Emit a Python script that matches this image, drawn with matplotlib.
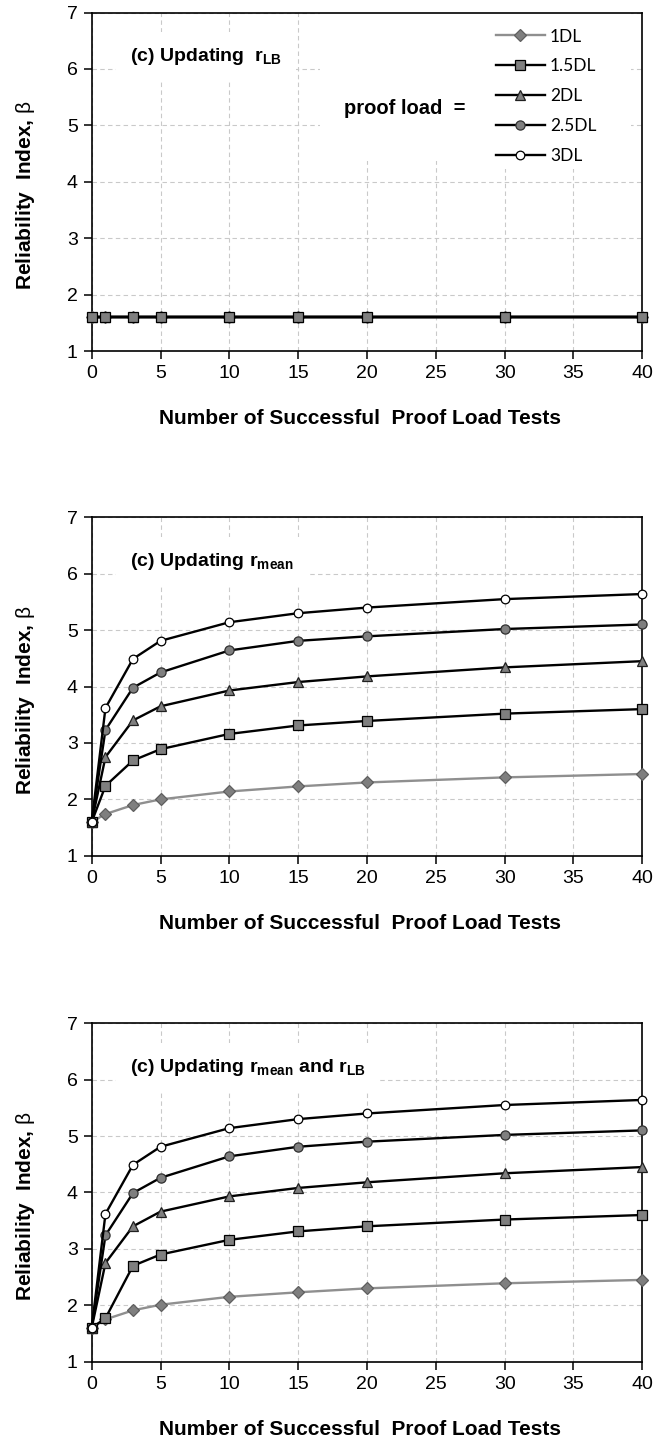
import matplotlib
matplotlib.use("Agg")
import matplotlib.pyplot as plt
from matplotlib.patches import Rectangle

plt.rcParams["font.family"] = ["Liberation Sans", "DejaVu Sans"]
plt.rcParams["mathtext.fontset"] = "custom"
plt.rcParams["mathtext.rm"] = "Liberation Sans"
plt.rcParams["mathtext.it"] = "Liberation Sans:italic"
plt.rcParams["mathtext.bf"] = "Liberation Sans:bold"

# Number of successful proof load tests
n_tests = [0, 1, 3, 5, 10, 15, 20, 30, 40]

series_labels = ["1DL", "1.5DL", "2DL", "2.5DL", "3DL"]

# (a) updating r_LB only: reliability index stays flat
beta_lb_1dl = [1.61, 1.61, 1.61, 1.61, 1.61, 1.61, 1.61, 1.61, 1.61]
beta_lb_15dl = [1.61, 1.61, 1.61, 1.61, 1.61, 1.61, 1.61, 1.61, 1.61]
beta_lb_2dl = [1.61, 1.61, 1.61, 1.61, 1.61, 1.61, 1.61, 1.61, 1.61]
beta_lb_25dl = [1.61, 1.61, 1.61, 1.61, 1.61, 1.61, 1.61, 1.61, 1.61]
beta_lb_3dl = [1.61, 1.61, 1.61, 1.61, 1.61, 1.61, 1.61, 1.61, 1.61]

# (b) updating r_mean
beta_mean_1dl = [1.60, 1.74, 1.90, 2.00, 2.14, 2.23, 2.30, 2.39, 2.45]
beta_mean_15dl = [1.60, 2.24, 2.69, 2.89, 3.16, 3.31, 3.39, 3.52, 3.60]
beta_mean_2dl = [1.60, 2.75, 3.40, 3.65, 3.93, 4.08, 4.18, 4.34, 4.45]
beta_mean_25dl = [1.60, 3.23, 3.98, 4.25, 4.64, 4.81, 4.89, 5.02, 5.10]
beta_mean_3dl = [1.60, 3.62, 4.49, 4.81, 5.14, 5.30, 5.40, 5.55, 5.64]

# (c) updating r_mean and r_LB
beta_both_1dl = [1.60, 1.75, 1.91, 2.01, 2.15, 2.23, 2.30, 2.39, 2.45]
beta_both_15dl = [1.60, 1.77, 2.70, 2.90, 3.16, 3.31, 3.40, 3.52, 3.60]
beta_both_2dl = [1.60, 2.75, 3.40, 3.66, 3.93, 4.08, 4.18, 4.34, 4.45]
beta_both_25dl = [1.60, 3.24, 3.99, 4.26, 4.64, 4.81, 4.90, 5.02, 5.10]
beta_both_3dl = [1.60, 3.62, 4.49, 4.81, 5.14, 5.30, 5.40, 5.55, 5.64]

x_ticks = [0, 5, 10, 15, 20, 25, 30, 35, 40]
y_ticks = [1, 2, 3, 4, 5, 6, 7]

panel_titles = [
    r"(c) Updating  $\mathbf{r_{LB}}$",
    r"(c) Updating $\mathbf{r_{mean}}$",
    r"(c) Updating $\mathbf{r_{mean}}$ and $\mathbf{r_{LB}}$",
]
panel_data = [
    [beta_lb_1dl, beta_lb_15dl, beta_lb_2dl, beta_lb_25dl, beta_lb_3dl],
    [beta_mean_1dl, beta_mean_15dl, beta_mean_2dl, beta_mean_25dl, beta_mean_3dl],
    [beta_both_1dl, beta_both_15dl, beta_both_2dl, beta_both_25dl, beta_both_3dl],
]

GRAY = "#7f7f7f"
styles = [
    dict(color="#8f8f8f", marker="D", markersize=6.0, markerfacecolor=GRAY,
         markeredgecolor="#5e5e5e"),
    dict(color="black", marker="s", markersize=6.8, markerfacecolor=GRAY,
         markeredgecolor="black"),
    dict(color="black", marker="^", markersize=7.2, markerfacecolor=GRAY,
         markeredgecolor="#202020"),
    dict(color="black", marker="o", markersize=6.6, markerfacecolor=GRAY,
         markeredgecolor="#303030"),
    dict(color="black", marker="o", markersize=6.2, markerfacecolor="white",
         markeredgecolor="black"),
]

fig = plt.figure(figsize=(6.57, 14.42), dpi=100)

ax_left = 91.7 / 657
ax_w = 550.6 / 657
ax_h = 338.5 / 1442
ax_bottoms = [1 - 351.0 / 1442, 1 - 855.8 / 1442, 1 - 1361.7 / 1442]

for k in range(3):
    ax = fig.add_axes([ax_left, ax_bottoms[k], ax_w, ax_h])
    ax.set_xlim(0, 40)
    ax.set_ylim(1, 7)
    ax.set_xticks(x_ticks)
    ax.set_yticks(y_ticks)
    ax.tick_params(direction="out", length=6, width=1.1, labelsize=14,
                   colors="black", pad=4)
    for sp in ax.spines.values():
        sp.set_linewidth(1.2)
        sp.set_color("black")
    ax.grid(True, color="#c9c9c9", linestyle=(0, (4, 3)), linewidth=0.8)
    ax.set_axisbelow(True)

    for i, (vals, st) in enumerate(zip(panel_data[k], styles)):
        z = 3 + i
        if k == 0 and i == 1:
            z = 9
        ax.plot(n_tests, vals, label=series_labels[i], linewidth=1.7,
                markeredgewidth=0.9, clip_on=False, zorder=z, **st)

    ax.text(2.78, 6.22, panel_titles[k], fontsize=14, fontweight="bold",
            ha="left", va="center", zorder=12,
            bbox=dict(facecolor="white", edgecolor="none", pad=10))

    ax.set_xlabel("Number of Successful  Proof Load Tests", fontsize=15,
                  fontweight="bold")
    ax.xaxis.set_label_coords(0.487, -0.172)
    ax.set_ylabel(r"Reliability  Index, $\mathrm{\beta}$", fontsize=15,
                  fontweight="bold")
    ax.yaxis.set_label_coords(-0.1, 0.46)

    if k == 0:
        # white panel behind the legend annotation
        ax.add_patch(Rectangle((0.415, 0.56), 0.565, 0.44,
                               transform=ax.transAxes, facecolor="white",
                               edgecolor="none", zorder=2))
        ax.text(0.458, 0.717, "proof load  =", transform=ax.transAxes,
                fontsize=14.5, fontweight="bold", ha="left", va="center",
                zorder=12)
        leg = ax.legend(loc="upper left", bbox_to_anchor=(0.725, 0.968),
                        frameon=True, fancybox=False, framealpha=1,
                        edgecolor="none", facecolor="white",
                        prop={"family": "Lato", "size": 12.5},
                        handlelength=2.8, handletextpad=0.3,
                        labelspacing=0.8, borderpad=0.3,
                        borderaxespad=0.0)
        leg.set_zorder(13)

fig.savefig("out.png", dpi=100)
